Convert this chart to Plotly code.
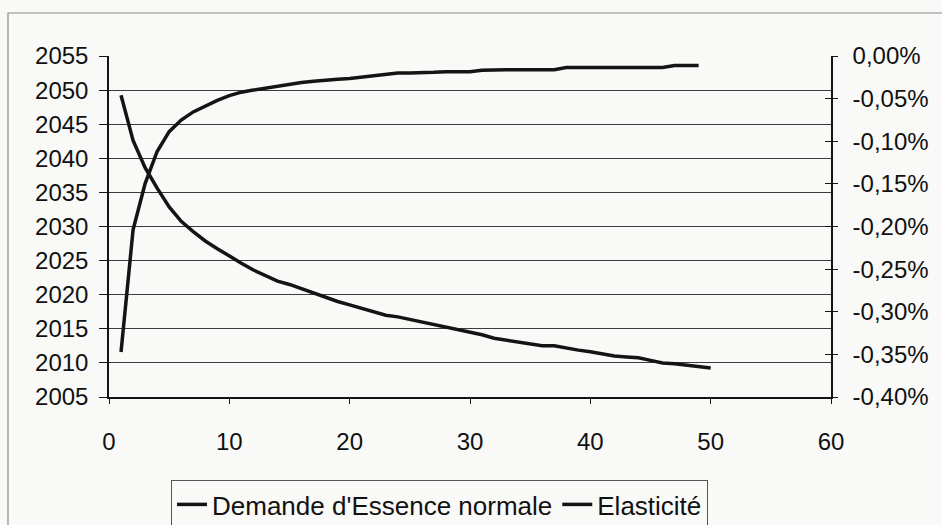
import plotly.graph_objects as go

# ---- data ----
x_demande = list(range(1, 50))
demande = [2011.6, 2029.5, 2036.3, 2041.0, 2043.9, 2045.6, 2046.8, 2047.7, 2048.5, 2049.2,
           2049.7, 2050.0, 2050.3, 2050.6, 2050.9, 2051.1, 2051.3, 2051.5, 2051.6, 2051.7,
           2051.9, 2052.0, 2052.2, 2052.5, 2052.5, 2052.5, 2052.6, 2052.7, 2052.7, 2052.7,
           2052.9, 2053.0, 2053.0, 2053.0, 2053.0, 2053.0, 2053.0, 2053.3, 2053.3, 2053.3,
           2053.3, 2053.3, 2053.3, 2053.3, 2053.3, 2053.3, 2053.6, 2053.6, 2053.6]

x_elast = list(range(1, 51))
elasticite = [-0.046, -0.099, -0.131, -0.155, -0.177, -0.194, -0.206, -0.217, -0.226, -0.235,
              -0.243, -0.251, -0.258, -0.264, -0.268, -0.273, -0.279, -0.283, -0.288, -0.292,
              -0.296, -0.300, -0.304, -0.306, -0.309, -0.313, -0.316, -0.318, -0.321, -0.324,
              -0.327, -0.331, -0.333, -0.335, -0.338, -0.340, -0.340, -0.343, -0.345, -0.347,
              -0.350, -0.352, -0.353, -0.354, -0.357, -0.360, -0.361, -0.363, -0.365, -0.366]

left_ticks = [2005, 2010, 2015, 2020, 2025, 2030, 2035, 2040, 2045, 2050, 2055]
right_tickvals = [0.0, -0.05, -0.10, -0.15, -0.20, -0.25, -0.30, -0.35, -0.40]
right_ticktext = ["0,00%", "-0,05%", "-0,10%", "-0,15%", "-0,20%", "-0,25%", "-0,30%", "-0,35%", "-0,40%"]
x_ticks = [0, 10, 20, 30, 40, 50, 60]

FONT = "Liberation Sans, Arial, sans-serif"
INK = "#141414"
BG = "#f9f9f7"

fig = go.Figure()
fig.add_trace(go.Scatter(x=x_demande, y=demande, mode="lines", name="Demande d'Essence normale",
                         line=dict(color=INK, width=3.5), yaxis="y"))
fig.add_trace(go.Scatter(x=x_elast, y=elasticite, mode="lines", name="Elasticité",
                         line=dict(color=INK, width=3.5), yaxis="y2"))

W, H = 942, 525
L, R, T, B = 109, 111, 56, 128
pw, ph = W - L - R, H - T - B

def px_x(p):
    return (p - L) / pw

def px_y(p):
    return (H - B - p) / ph

fig.update_layout(
    width=W, height=H,
    margin=dict(l=L, r=R, t=T, b=B, autoexpand=False),
    paper_bgcolor=BG, plot_bgcolor=BG,
    font=dict(family=FONT, size=24, color="#111"),
    showlegend=True,
    legend=dict(orientation="h", x=px_x(171), y=px_y(480), xanchor="left", yanchor="top",
                bordercolor="#555", borderwidth=1, bgcolor=BG,
                font=dict(size=26), itemwidth=30, tracegroupgap=0),
    xaxis=dict(range=[0, 60], tickvals=x_ticks, showgrid=False, zeroline=False,
               showline=True, linecolor=INK, linewidth=1.5, ticks="outside", ticklen=5,
               tickcolor=INK, ticklabelstandoff=17, automargin=False),
    yaxis=dict(range=[2005, 2055], tickvals=left_ticks, showgrid=True, gridcolor="#3c3c3c",
               gridwidth=1.3, zeroline=False, showline=True, linecolor=INK, linewidth=1.5,
               ticks="outside", ticklen=8, tickcolor=INK, ticklabelstandoff=6, automargin=False),
    yaxis2=dict(range=[-0.40, 0.0], tickvals=right_tickvals, ticktext=right_ticktext,
                overlaying="y", side="right", showgrid=False, zeroline=False,
                showline=True, linecolor=INK, linewidth=1.5, ticks="outside", ticklen=5,
                tickcolor=INK, ticklabelstandoff=10, automargin=False),
    yaxis3=dict(range=[-0.40, 0.0], tickvals=right_tickvals, overlaying="y", side="right",
                showgrid=False, zeroline=False, showline=False, ticks="inside", ticklen=6,
                tickcolor=INK, showticklabels=False, automargin=False),
    shapes=[dict(type="rect", xref="paper", yref="paper",
                 x0=px_x(8), x1=px_x(960), y0=px_y(540), y1=px_y(13),
                 line=dict(color="#8a8a8a", width=1.2), fillcolor="rgba(0,0,0,0)", layer="below")],
)
# invisible trace to activate yaxis3 ticks
fig.add_trace(go.Scatter(x=[None], y=[None], yaxis="y3", showlegend=False, hoverinfo="skip"))

fig.write_html("out.html")
